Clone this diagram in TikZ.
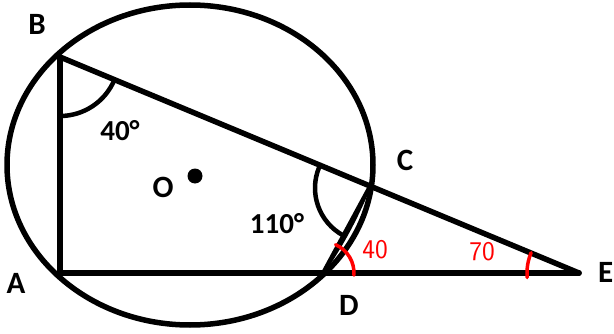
\documentclass[tikz,border=0pt]{standalone}
\usepackage{fontspec}
\setmainfont{Carlito}
\usepackage{tikz}
\usetikzlibrary{angles}

\begin{document}
\begin{tikzpicture}[
    x=1pt, y=1pt,
    geo/.style={line width=5.5pt, line cap=round, line join=round},
    arcmark/.style={draw, line width=4.5pt},
    redmark/.style={red, line width=3.5pt, line cap=round},
    lbl/.style={font=\fontsize{31}{33}\selectfont\bfseries, inner sep=0pt},
    val/.style={font=\fontsize{29}{31}\selectfont\bfseries, inner sep=0pt},
    hand/.style={red, font=\fontsize{27}{29}\selectfont\sffamily, inner sep=0pt},
  ]
    \useasboundingbox (0,0) rectangle (614,333);
    % points of the figure
    \coordinate (B) at (60,276);
    \coordinate (A) at (60,60);
    \coordinate (D) at (323,60);
    \coordinate (C) at (369,145);
    \coordinate (E) at (579,60);
    \coordinate (O) at (195,157);

    \draw[geo] (190,168) ellipse[x radius=183, y radius=160];
    \draw[geo] (B) -- (A);
    \draw[geo] (A) -- (E);
    \draw[geo] (B) -- (E);
    % chord CD, drawn twice
    \draw[line width=4pt] (C) -- (D);
    \draw[line width=3pt] (C) to[bend left=5] (D);
    \fill (O) circle[radius=7.5];

    % angles
    \pic[arcmark, angle radius=59] {angle=A--B--C};
    \pic[arcmark, angle radius=54] {angle=B--C--D};
    \draw[redmark] (D) ++(-4:31) arc[start angle=-4, end angle=66, radius=31];
    \draw[redmark] (E) ++(157:52) arc[start angle=157, end angle=185, radius=52];

    % labels
    \node[lbl] (lB) at (37,309) {B};
    \node[lbl] (lA) at (16,50) {A};
    \node[lbl] (lD) at (349,28) {D};
    \node[lbl] (lC) at (405,173) {C};
    \node[lbl, anchor=west] (lE) at (598,61) {E};
    \node[lbl] (lO) at (163,146) {O};
    \node[val] (a40) at (120,202) {40°};
    \node[val] (a110) at (277,109) {110°};
    \node[hand] (r40) at (375,83) {40};
    \node[hand] (r70) at (482,81) {70};
  \end{tikzpicture}
\end{document}
